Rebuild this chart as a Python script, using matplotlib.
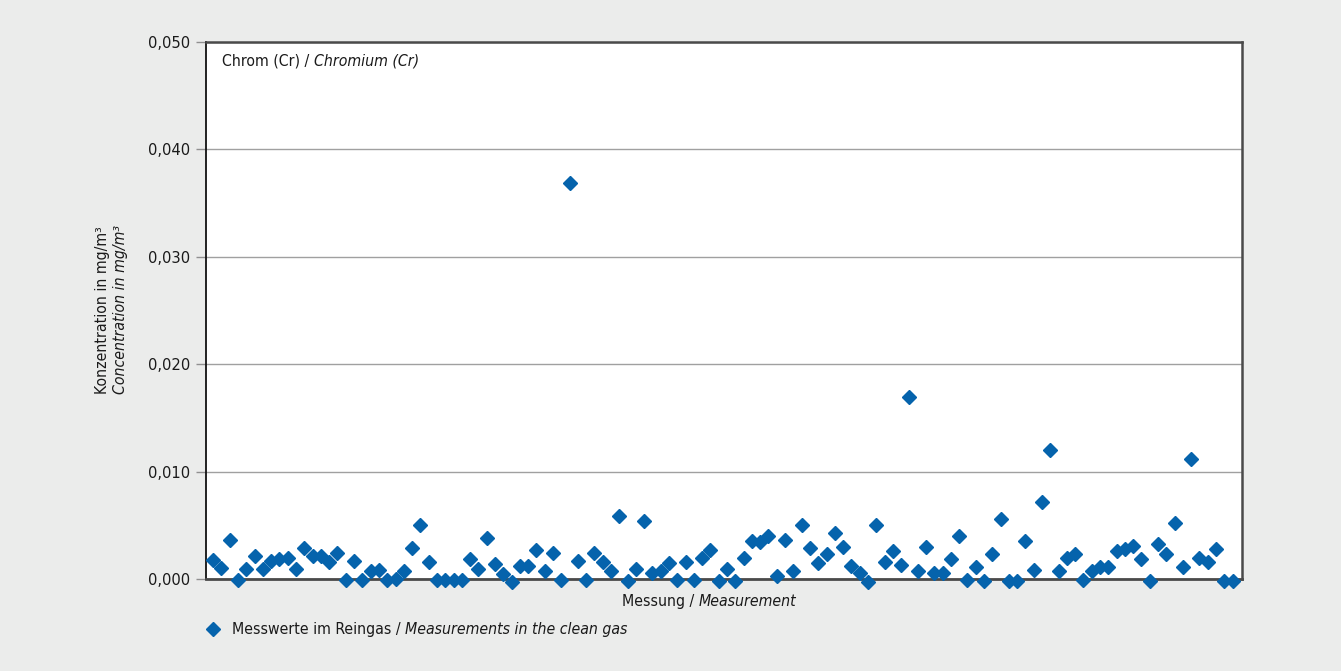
import matplotlib
matplotlib.use("Agg")
import matplotlib.pyplot as plt
from matplotlib.ticker import FuncFormatter

plt.rcParams['font.family'] = ['Liberation Sans Narrow', 'DejaVu Sans']
plt.rcParams['font.stretch'] = 'condensed'

# Chrom-Konzentrationen im Reingas, mg/m3
values = [
    0.0018, 0.0010, 0.0036, -0.0001, 0.0009, 0.0021, 0.0009, 0.0017, 0.0019, 0.0020,
    0.0009, 0.0029, 0.0021, 0.0021, 0.0016, 0.0024, -0.0001, 0.0017, -0.0001, 0.0007,
    0.0008, -0.0001, 0.0000, 0.0007, 0.0029, 0.0050, 0.0016, -0.0001, -0.0001, -0.0001,
    -0.0001, 0.0019, 0.0009, 0.0038, 0.0014, 0.0005, -0.0003, 0.0012, 0.0012, 0.0027,
    0.0007, 0.0024, -0.0001, 0.0369, 0.0017, -0.0001, 0.0024, 0.0016, 0.0007, 0.0059,
    -0.0002, 0.0009, 0.0054, 0.0006, 0.0007, 0.0015, -0.0001, 0.0016, -0.0001, 0.0020,
    0.0027, -0.0002, 0.0009, -0.0002, 0.0020, 0.0035, 0.0034, 0.0040, 0.0003, 0.0036,
    0.0007, 0.0050, 0.0029, 0.0015, 0.0023, 0.0043, 0.0030, 0.0012, 0.0006, -0.0003,
    0.0050, 0.0016, 0.0026, 0.0013, 0.0169, 0.0007, 0.0030, 0.0006, 0.0006, 0.0019,
    0.0040, -0.0001, 0.0011, -0.0002, 0.0023, 0.0056, -0.0002, -0.0002, 0.0035, 0.0008,
    0.0072, 0.0120, 0.0007, 0.0020, 0.0023, -0.0001, 0.0007, 0.0011, 0.0011, 0.0026,
    0.0028, 0.0031, 0.0019, -0.0002, 0.0033, 0.0023, 0.0052, 0.0011, 0.0112, 0.0020,
    0.0016, 0.0028, -0.0002, -0.0002,
]
measurement = list(range(1, len(values) + 1))
yticks = [0.0, 0.01, 0.02, 0.03, 0.04, 0.05]

bg = '#EBECEB'
blue = '#0563AC'
txt = '#1a1a1a'
fs = 11.3
W, H = 1341, 671

fig = plt.figure(figsize=(13.41, 6.71), dpi=100, facecolor=bg)
ax = fig.add_axes([0.1534, 0.1371, 0.7726, 0.8003])
ax.set_facecolor('white')

ax.plot(measurement, values, linestyle='none', marker='D', markersize=7,
        color=blue, clip_on=False, zorder=3)

ax.set_xlim(0.1, 125.1)
ax.set_ylim(0, 0.05)
ax.set_yticks(yticks)
ax.yaxis.set_major_formatter(FuncFormatter(lambda v, p: f"{v:.3f}".replace('.', ',')))
ax.set_xticks([])
ax.grid(axis='y', color='#A0A0A0', linewidth=1)
ax.set_axisbelow(True)
ax.tick_params(axis='y', length=7, width=1, color='#909090', labelsize=fs + 0.5,
               pad=4, labelcolor=txt)

ax.spines['left'].set_color('#111111')
ax.spines['left'].set_linewidth(1.3)
for s in ['top', 'right']:
    ax.spines[s].set_color('#4a4a4a')
    ax.spines[s].set_linewidth(1.8)
ax.spines['bottom'].set_color('#4a4a4a')
ax.spines['bottom'].set_linewidth(2)

renderer = fig.canvas.get_renderer()


def two_part(x, y, a, b):
    # normaler Teil, dann kursiver Teil auf derselben Grundlinie
    t = fig.text(x / W, 1 - y / H, a, fontsize=fs, ha='left', va='baseline', color=txt)
    x1 = t.get_window_extent(renderer).x1
    fig.text(x1 / W, 1 - y / H, b, fontsize=fs, style='italic', ha='left',
             va='baseline', color=txt)


# Titel im Diagramm
two_part(222, 65, "Chrom (Cr) / ", "Chromium (Cr)")

# y-Achsenbeschriftung
fig.text(103 / W, 1 - 310 / H, "Konzentration in mg/m³", rotation=90,
         fontsize=fs, ha='center', va='center', color=txt)
fig.text(121 / W, 1 - 310 / H, "Concentration in mg/m³", rotation=90,
         fontsize=fs, style='italic', ha='center', va='center', color=txt)

# x-Achsenbeschriftung
two_part(622, 606, "Messung / ", "Measurement")

# Legende
fig.lines.append(plt.Line2D([213 / W], [1 - 629 / H], transform=fig.transFigure,
                            marker='D', markersize=7, color=blue, linestyle='none'))
two_part(232, 634, "Messwerte im Reingas / ", "Measurements in the clean gas")

fig.savefig("out.png", dpi=100, facecolor=bg)
